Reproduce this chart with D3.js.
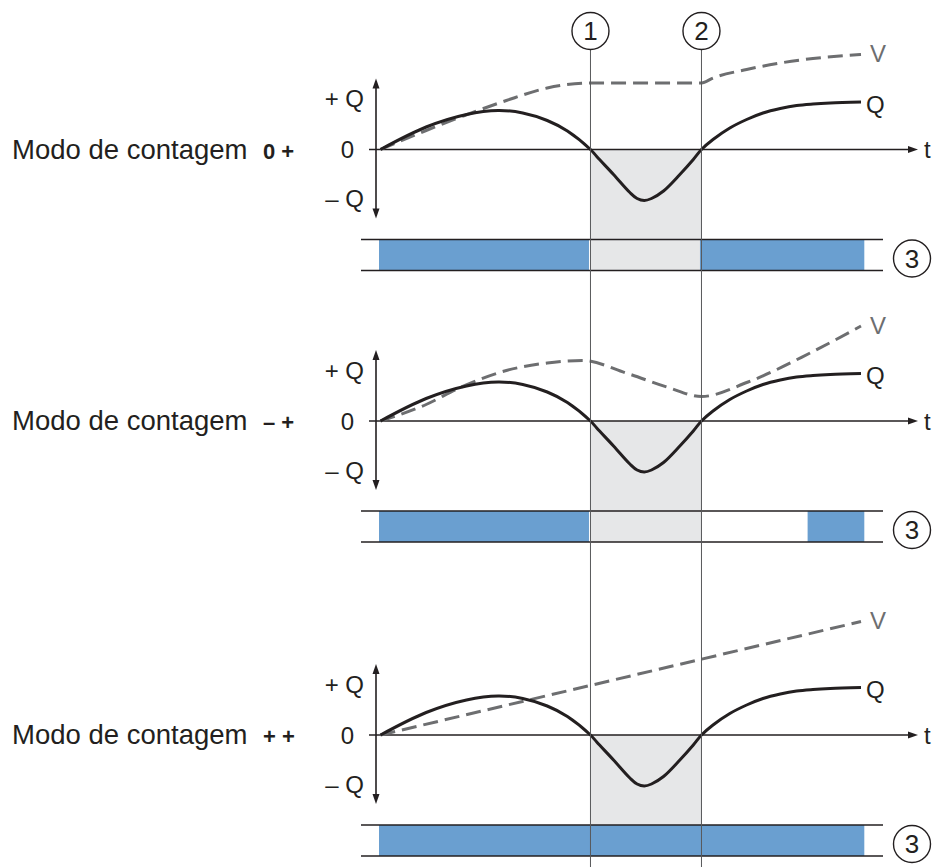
<!DOCTYPE html>
<html>
<head>
<meta charset="utf-8">
<script src="https://cdn.jsdelivr.net/npm/d3@7"></script>
<style>
  body { margin: 0; background: #fff; }
  svg { display: block; }
  text { font-family: "Liberation Sans", Arial, sans-serif; fill: #231f20; }
</style>
</head>
<body>
<svg id="chart" width="940" height="867"></svg>
<script>
// time runs 0..100, Q and V in units of Q
var events = [43.7, 66.8];            // moments 1 and 2
var eventLabels = ["1", "2"];

var qTime   = [0, 9.5, 17.9, 24.5, 29.6, 34.7, 38.9, 43.7, 45.0, 48.5, 51.9, 53.4, 54.9, 56.4, 58.9, 62.3, 65.1, 66.8, 69.2, 72.7, 76.2, 79.6, 83.2, 86.6, 90.0, 93.6, 100];
var qValues = [0, 0.45, 0.70, 0.78, 0.73, 0.58, 0.37, 0, -0.14, -0.50, -0.86, -0.98, -1.02, -0.98, -0.83, -0.50, -0.20, 0, 0.20, 0.43, 0.60, 0.73, 0.82, 0.88, 0.91, 0.93, 0.95];

var v1Time   = [0, 9.5, 17.5, 26.2, 34.7, 43.7, 66.8, 69.2, 76.2, 83.2, 90.0, 100];
var v1Values = [0, 0.38, 0.68, 0.98, 1.23, 1.33, 1.33, 1.43, 1.60, 1.73, 1.82, 1.90];

var v2Time   = [0, 9.5, 16.6, 26.2, 34.7, 42.0, 51.4, 59.9, 66.8, 76.5, 89.2, 100];
var v2Values = [0, 0.33, 0.67, 1.01, 1.16, 1.21, 0.95, 0.67, 0.49, 0.78, 1.35, 1.90];

var v3Time   = [0, 100];
var v3Values = [0, 2.27];

var modeNames = ["0 +", "\u2013 +", "+ +"];
var modeText = "Modo de contagem";

// blue output bar (3) per mode, as [from, to] in time
var bars1 = [[0, 43.7], [66.8, 101]];
var bars2 = [[0, 43.7], [89.2, 101]];
var bars3 = [[0, 101]];

var yTickValues = [1, 0, -1];
var yTickLabels = ["+ Q", "0", "\u2013 Q"];

var panels = [
  { zero: 149.5, vt: v1Time, vv: v1Values, bars: bars1, mode: modeNames[0] },
  { zero: 421, vt: v2Time, vv: v2Values, bars: bars2, mode: modeNames[1] },
  { zero: 735, vt: v3Time, vv: v3Values, bars: bars3, mode: modeNames[2] }
];

var svg = d3.select("#chart");
var x = d3.scaleLinear().domain([0, 100]).range([380.5, 861]);
var axisX = 376;
var bandTop = 90, bandH = 31;   // band offset below zero line
var blue = "#6a9fd0", shade = "#e6e7e8", ink = "#231f20", grey = "#6d6e70";

function arrowHead(g, px, py, dir) {
  // dir: "up", "down", "right"
  var L = 10, W = 3.5, pts;
  if (dir == "up") pts = [[px, py], [px - W, py + L], [px + W, py + L]];
  else if (dir == "down") pts = [[px, py], [px - W, py - L], [px + W, py - L]];
  else pts = [[px, py], [px - L, py - W], [px - L, py + W]];
  g.append("polygon")
    .attr("points", pts.map(function(p){ return p.join(","); }).join(" "))
    .attr("fill", ink);
}

panels.forEach(function(p) {
  var y = d3.scaleLinear().domain([-1, 1]).range([p.zero + 50, p.zero - 50]);
  var g = svg.append("g");
  var bt = p.zero + bandTop;

  // shaded interval between 1 and 2
  g.append("rect")
    .attr("x", x(events[0])).attr("width", x(events[1]) - x(events[0]))
    .attr("y", y(0)).attr("height", bt + bandH - y(0))
    .attr("fill", shade);

  // output bars
  g.selectAll("rect.bar").data(p.bars).enter().append("rect")
    .attr("class", "bar")
    .attr("x", function(d){ return x(d[0]) - 1.5; })
    .attr("width", function(d){ return x(d[1]) - x(d[0]); })
    .attr("y", bt).attr("height", bandH)
    .attr("fill", blue);

  // band border lines
  [bt, bt + bandH].forEach(function(yy) {
    g.append("line")
      .attr("x1", axisX - 15).attr("x2", 883)
      .attr("y1", yy).attr("y2", yy)
      .attr("stroke", ink).attr("stroke-width", 1.6);
  });

  // circle 3
  g.append("circle").attr("cx", 912).attr("cy", bt + 19)
    .attr("r", 18.5).attr("fill", "#fff").attr("stroke", ink).attr("stroke-width", 1.4);
  g.append("text").attr("x", 912).attr("y", bt + 19).attr("dy", "0.36em")
    .attr("text-anchor", "middle").attr("font-size", 26).text("3");

  // mode label
  var lab = g.append("text").attr("x", 12).attr("y", p.zero + 9).attr("font-size", 27.5);
  lab.append("tspan").text(modeText);
  lab.append("tspan").attr("x", 263).attr("font-size", 22).attr("font-weight", "bold").text(p.mode);

  // y tick labels
  g.selectAll("text.tick").data(yTickValues).enter().append("text")
    .attr("class", "tick")
    .attr("x", function(d){ return d == 0 ? 354 : 364; })
    .attr("y", function(d){ return y(d) + (d == 0 ? 0 : -1); })
    .attr("dy", "0.36em").attr("text-anchor", "end").attr("font-size", 24)
    .text(function(d, i){ return yTickLabels[i]; });

  // vertical axis (double arrow)
  g.append("line").attr("x1", axisX).attr("x2", axisX)
    .attr("y1", y(1.42) + 4).attr("y2", y(-1.38) - 4)
    .attr("stroke", ink).attr("stroke-width", 1.6);
  arrowHead(g, axisX, y(1.42), "up");
  arrowHead(g, axisX, y(-1.38), "down");

  // time axis
  g.append("line").attr("x1", axisX - 7).attr("x2", 912)
    .attr("y1", y(0)).attr("y2", y(0))
    .attr("stroke", ink).attr("stroke-width", 1.4);
  arrowHead(g, 918, y(0), "right");
  g.append("text").attr("x", 924).attr("y", y(0)).attr("dy", "0.36em")
    .attr("font-size", 24).text("t");

  // V and Q curves
  var vData = p.vt.map(function(t, i){ return [t, p.vv[i]]; });
  var qData = qTime.map(function(t, i){ return [t, qValues[i]]; });
  var vLine = d3.line()
    .x(function(d){ return x(d[0]); })
    .y(function(d){ return y(d[1]); })
    .curve(d3.curveMonotoneX);
  var qLine = d3.line()
    .x(function(d){ return x(d[0]); })
    .y(function(d){ return y(d[1]); })
    .curve(d3.curveCatmullRom.alpha(0.5));

  g.append("path").datum(vData).attr("d", vLine)
    .attr("fill", "none").attr("stroke", grey).attr("stroke-width", 3)
    .attr("stroke-dasharray", "15,7");
  g.append("path").datum(qData).attr("d", qLine)
    .attr("fill", "none").attr("stroke", ink).attr("stroke-width", 3)
    .attr("stroke-linejoin", "round");

  var vEnd = vData[vData.length - 1], qEnd = qData[qData.length - 1];
  g.append("text").attr("x", x(vEnd[0]) + 9).attr("y", y(vEnd[1]) - 1).attr("dy", "0.36em")
    .attr("font-size", 24).style("fill", grey).text("V");
  g.append("text").attr("x", x(qEnd[0]) + 5).attr("y", y(qEnd[1]) + 2).attr("dy", "0.36em")
    .attr("font-size", 24).text("Q");
});

// event markers 1 and 2 running through all modes
events.forEach(function(e, i) {
  svg.append("line").attr("x1", x(e)).attr("x2", x(e))
    .attr("y1", 49).attr("y2", 867)
    .attr("stroke", "#58595b").attr("stroke-width", 1);
  svg.append("circle").attr("cx", x(e)).attr("cy", 31).attr("r", 18.5)
    .attr("fill", "#fff").attr("stroke", ink).attr("stroke-width", 1.4);
  svg.append("text").attr("x", x(e)).attr("y", 31).attr("dy", "0.36em")
    .attr("text-anchor", "middle").attr("font-size", 26).text(eventLabels[i]);
});
</script>
</body>
</html>
